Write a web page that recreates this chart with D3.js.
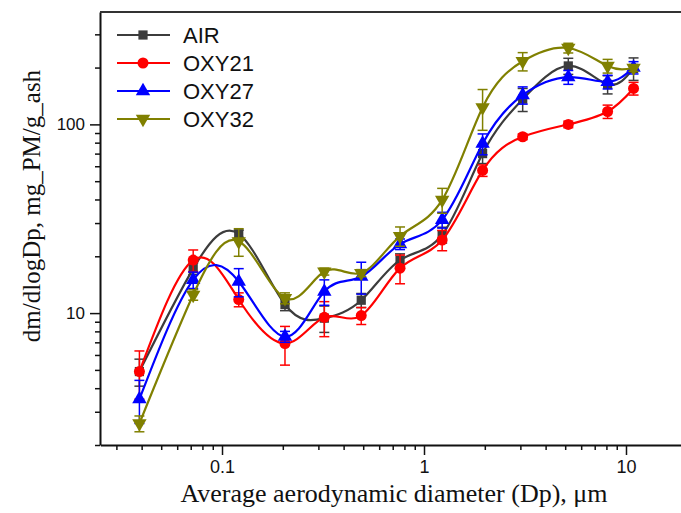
<!DOCTYPE html>
<html>
<head>
<meta charset="utf-8">
<script src="https://cdn.jsdelivr.net/npm/d3@7/dist/d3.min.js"></script>
<style>
  body { margin: 0; background: #fff; }
  text { fill: #111; }
</style>
</head>
<body>
<svg id="chart"></svg>
<script>
// aerodynamic diameters (um) for each impactor stage
const diameters = [0.039, 0.072, 0.121, 0.205, 0.321, 0.489, 0.761, 1.23, 1.95, 3.08, 5.18, 8.11, 10.9];

const seriesNames = ["AIR", "OXY21", "OXY27", "OXY32"];

const airValues   = [4.9, 17.2, 26.3, 11.1, 9.4, 11.7, 19.1, 26.0, 70, 136, 204, 163, 198];
const airErrors   = [0.8, 1.2, 1.2, 0.8, 1.5, 1.0, 1.5, 2.5, 8, 19, 20, 18, 27];

const oxy21Values = [4.9, 19.1, 11.8, 6.9, 9.5, 9.7, 17.3, 24.4, 57, 86, 100, 117, 155];
const oxy21Errors = [1.4, 2.5, 1.0, 1.6, 2.0, 1.0, 3.0, 3.0, 4, 3, 4, 9.5, 12];

const oxy27Values = [3.5, 15.0, 14.7, 7.5, 13.0, 15.6, 23.2, 31.2, 79, 143, 178, 168, 200];
const oxy27Errors = [0.9, 1.5, 2.5, 0.5, 2.0, 3.0, 1.5, 3.0, 10, 15, 15, 14, 15];

const oxy32Values = [2.6, 12.5, 24.0, 12.0, 16.6, 16.3, 25.6, 39.8, 123, 216, 254, 204, 199];
const oxy32Errors = [0.25, 0.8, 4.0, 0.8, 0.7, 0.7, 3.0, 6.0, 30, 24, 15, 17, 8];

const xMajor = [0.1, 1, 10];
const yMajor = [10, 100];

const width = 681, height = 513;

const svg = d3.select("#chart").attr("width", width).attr("height", height);

const x = d3.scaleLog().domain([0.025, 20]).range([100.4, 686.8]);
const y = d3.scaleLog().domain([2, 394]).range([445, 12]);

const series = [
  { name: seriesNames[0], values: airValues,   errors: airErrors,   color: "#3c3c3c", symbol: d3.symbolSquare,   size: 85, rot: 0 },
  { name: seriesNames[1], values: oxy21Values, errors: oxy21Errors, color: "#ff0000", symbol: d3.symbolCircle,   size: 95, rot: 0 },
  { name: seriesNames[2], values: oxy27Values, errors: oxy27Errors, color: "#0000ff", symbol: d3.symbolTriangle, size: 90, rot: 0 },
  { name: seriesNames[3], values: oxy32Values, errors: oxy32Errors, color: "#808000", symbol: d3.symbolTriangle, size: 90, rot: 180 }
];

// minor tick values
const xTicks = [];
[0.01, 0.1, 1, 10].forEach(dec => {
  for (let k = 1; k < 10; k++) {
    const v = dec * k;
    if (v >= 0.03 && v <= 20) xTicks.push(+v.toPrecision(3));
  }
});
const yTicks = [];
[1, 10, 100].forEach(dec => {
  for (let k = 1; k < 10; k++) {
    const v = dec * k;
    if (v >= 2 && v <= 394) yTicks.push(v);
  }
});
const isMajor = (list, v) => list.some(m => Math.abs(m - v) < 1e-9);

// x axis
const xAxis = svg.append("g")
  .attr("transform", `translate(0,445)`)
  .call(d3.axisBottom(x).tickValues(xTicks).tickSize(5).tickSizeOuter(0)
    .tickFormat(d => isMajor(xMajor, d) ? d3.format("~g")(d) : ""));
xAxis.select(".domain").attr("stroke", "#111").attr("stroke-width", 2);
xAxis.selectAll(".tick line").attr("stroke", "#111").attr("stroke-width", 1.5)
  .attr("y2", d => isMajor(xMajor, d) ? 10 : 5);
xAxis.selectAll(".tick text")
  .attr("y", 15)
  .attr("font-family", "Liberation Sans, Arial, sans-serif")
  .attr("font-size", 18);

// y axis
const yAxis = svg.append("g")
  .attr("transform", `translate(100,0)`)
  .call(d3.axisLeft(y).tickValues(yTicks).tickSize(5).tickSizeOuter(0)
    .tickFormat(d => isMajor(yMajor, d) ? d3.format("~g")(d) : ""));
yAxis.select(".domain").attr("stroke", "#111").attr("stroke-width", 2);
yAxis.selectAll(".tick line").attr("stroke", "#111").attr("stroke-width", 1.5)
  .attr("x2", d => isMajor(yMajor, d) ? -10 : -5);
yAxis.selectAll(".tick text")
  .attr("x", -15)
  .attr("font-family", "Liberation Sans, Arial, sans-serif")
  .attr("font-size", 17);

// top frame line
svg.append("line")
  .attr("x1", 100).attr("x2", width)
  .attr("y1", y.range()[1]).attr("y2", y.range()[1])
  .attr("stroke", "#333").attr("stroke-width", 2);

// axis titles
svg.append("text")
  .attr("x", 394).attr("y", 502)
  .attr("text-anchor", "middle")
  .attr("font-family", "Liberation Serif, Times New Roman, serif")
  .attr("font-size", 26)
  .text("Average aerodynamic diameter (Dp), μm");

svg.append("text")
  .attr("transform", "translate(40,206) rotate(-90)")
  .attr("text-anchor", "middle")
  .attr("font-family", "Liberation Serif, Times New Roman, serif")
  .attr("font-size", 25)
  .text("dm/dlogDp, mg_PM/g_ash");

const plot = svg.append("g");

const line = d3.line()
  .x(d => x(d.dp))
  .y(d => y(d.v))
  .curve(d3.curveNatural);

series.forEach(s => {
  const pts = diameters.map((dp, i) => ({ dp, v: s.values[i], e: s.errors[i] }));
  const g = plot.append("g");

  g.append("path")
    .datum(pts)
    .attr("d", line)
    .attr("fill", "none")
    .attr("stroke", s.color)
    .attr("stroke-width", 2.2);

  // error bars
  const eb = g.selectAll(".err").data(pts).enter().append("g");
  eb.append("line")
    .attr("x1", d => x(d.dp)).attr("x2", d => x(d.dp))
    .attr("y1", d => y(d.v + d.e)).attr("y2", d => y(d.v - d.e))
    .attr("stroke", s.color).attr("stroke-width", 1.5);
  ["up", "down"].forEach(side => {
    eb.append("line")
      .attr("x1", d => x(d.dp) - 5).attr("x2", d => x(d.dp) + 5)
      .attr("y1", d => y(side === "up" ? d.v + d.e : d.v - d.e))
      .attr("y2", d => y(side === "up" ? d.v + d.e : d.v - d.e))
      .attr("stroke", s.color).attr("stroke-width", 1.5);
  });

  g.selectAll(".mk").data(pts).enter().append("path")
    .attr("d", d3.symbol().type(s.symbol).size(s.size))
    .attr("transform", d => `translate(${x(d.dp)},${y(d.v)}) rotate(${s.rot})`)
    .attr("fill", s.color);
});

// legend
const legend = svg.append("g");
series.forEach((s, i) => {
  const ly = 35 + i * 28;
  legend.append("line")
    .attr("x1", 117).attr("x2", 170).attr("y1", ly).attr("y2", ly)
    .attr("stroke", s.color).attr("stroke-width", 2.2);
  legend.append("path")
    .attr("d", d3.symbol().type(s.symbol).size(s.size))
    .attr("transform", `translate(143,${ly}) rotate(${s.rot})`)
    .attr("fill", s.color);
  legend.append("text")
    .attr("x", 183).attr("y", ly)
    .attr("dy", "0.36em")
    .attr("font-family", "Liberation Sans, Arial, sans-serif")
    .attr("font-size", 22)
    .text(s.name);
});
</script>
</body>
</html>
